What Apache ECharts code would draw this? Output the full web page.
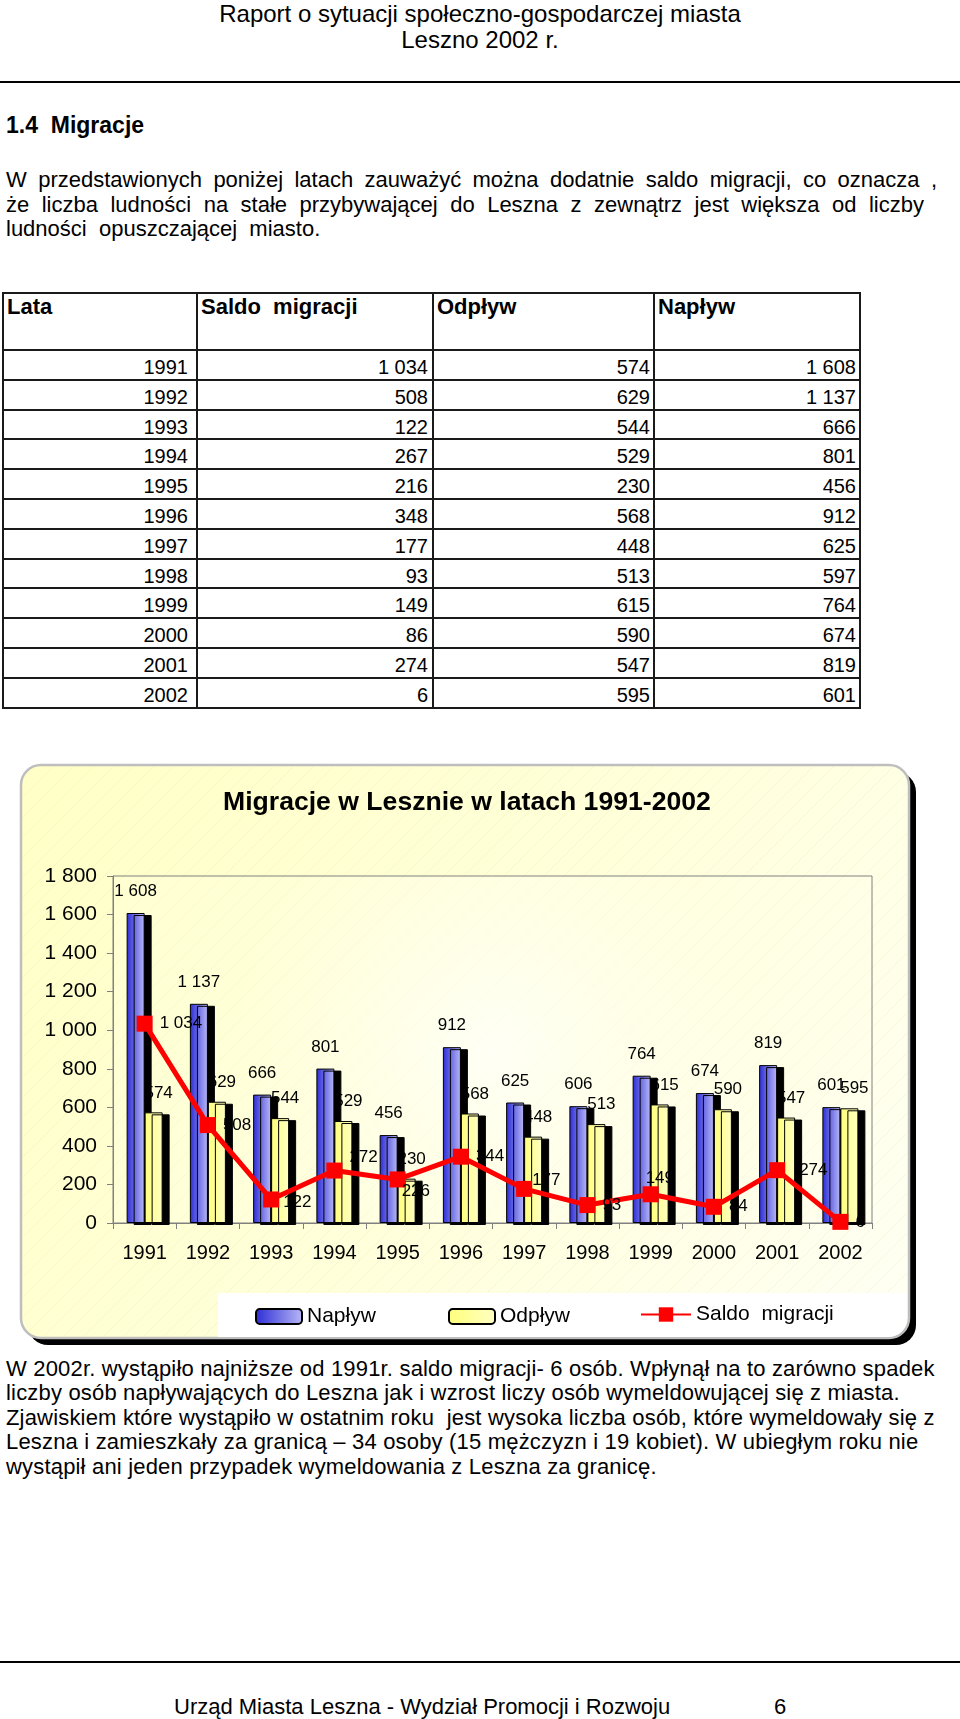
<!DOCTYPE html>
<html><head><meta charset="utf-8">
<script src="https://cdn.jsdelivr.net/npm/echarts@6/dist/echarts.min.js"></script>
<style>
html,body{margin:0;padding:0;background:#fff;}
body{width:960px;height:1719px;position:relative;overflow:hidden;font-family:"Liberation Sans",Arial,Helvetica,sans-serif;color:#000;}
.t{position:absolute;line-height:1;white-space:nowrap;}
.j{text-align:justify;text-align-last:justify;}
.b{letter-spacing:0.18px;}
.rule{position:absolute;left:0;width:960px;height:2px;background:#000;}
.ln{position:absolute;background:#1a1a1a;}
#chart{position:absolute;left:0;top:0;width:960px;height:1719px;z-index:2;}
</style></head>
<body>
<div class="t" style="left:0;width:960px;text-align:center;top:2px;font-size:24px;">Raport o sytuacji społeczno-gospodarczej miasta</div>
<div class="t" style="left:0;width:960px;text-align:center;top:28px;font-size:24px;">Leszno 2002 r.</div>
<div class="rule" style="top:81px;"></div>
<div class="t" style="left:6px;top:114px;font-size:23px;font-weight:bold;">1.4&nbsp; Migracje</div>
<div class="t j" style="left:6px;width:931px;top:169px;font-size:22px;">W przedstawionych poniżej latach zauważyć można dodatnie saldo migracji, co oznacza ,</div>
<div class="t j" style="left:6px;width:918px;top:194px;font-size:22px;">że liczba ludności na stałe przybywającej do Leszna z zewnątrz jest większa od liczby</div>
<div class="t" style="left:6px;top:218px;font-size:22px;white-space:pre;">ludności  opuszczającej  miasto.</div>
<div id="tbl"></div>
<div class="t b" style="left:6px;top:1358px;font-size:22px;">W 2002r. wystąpiło najniższe od 1991r. saldo migracji- 6 osób. Wpłynął na to zarówno spadek</div>
<div class="t b" style="left:6px;top:1382px;font-size:22px;">liczby osób napływających do Leszna jak i wzrost liczy osób wymeldowującej się z miasta.</div>
<div class="t b" style="left:6px;top:1407px;font-size:22px;white-space:pre;">Zjawiskiem które wystąpiło w ostatnim roku  jest wysoka liczba osób, które wymeldowały się z</div>
<div class="t b" style="left:6px;top:1431px;font-size:22px;">Leszna i zamieszkały za granicą – 34 osoby (15 mężczyzn i 19 kobiet). W ubiegłym roku nie</div>
<div class="t b" style="left:6px;top:1456px;font-size:22px;">wystąpił ani jeden przypadek wymeldowania z Leszna za granicę.</div>
<div class="rule" style="top:1661px;"></div>
<div class="t" style="left:174px;top:1696px;font-size:22px;">Urząd Miasta Leszna - Wydział Promocji i Rozwoju</div>
<div class="t" style="left:774px;top:1696px;font-size:22px;">6</div>
<div id="chart"></div>
<script>
// ---- table data (as printed in the table) ----
const tableHeaders = ['Lata', 'Saldo  migracji', 'Odpływ', 'Napływ'];
const tableYears = [1991, 1992, 1993, 1994, 1995, 1996, 1997, 1998, 1999, 2000, 2001, 2002];
const tableSaldo = [1034, 508, 122, 267, 216, 348, 177, 93, 149, 86, 274, 6];
const tableOdplyw = [574, 629, 544, 529, 230, 568, 448, 513, 615, 590, 547, 595];
const tableNaplyw = [1608, 1137, 666, 801, 456, 912, 625, 597, 764, 674, 819, 601];

// ---- chart data (as labelled in the chart) ----
const years = ['1991', '1992', '1993', '1994', '1995', '1996', '1997', '1998', '1999', '2000', '2001', '2002'];
const naplyw = [1608, 1137, 666, 801, 456, 912, 625, 606, 764, 674, 819, 601];
const odplyw = [574, 629, 544, 529, 230, 568, 448, 513, 615, 590, 547, 595];
const saldo = [1034, 508, 122, 272, 226, 344, 177, 93, 149, 84, 274, 6];
const yMin = 0, yMax = 1800, yStep = 200;
const seriesNames = ['Napływ', 'Odpływ', 'Saldo  migracji'];

function fmt(v) { return String(v).replace(/\B(?=(\d{3})+(?!\d))/g, ' '); }

// ---- table drawing ----
(function () {
  const box = document.getElementById('tbl');
  const xs = [3, 197, 433, 654, 860];
  const ys = [293, 350];
  for (let i = 1; i <= tableYears.length; i++) ys.push(350 + i * 29.8);
  let h = '';
  ys.forEach(y => { h += `<div class="ln" style="left:${xs[0] - 1}px;width:${xs[4] - xs[0] + 2}px;top:${y - 1}px;height:2px"></div>`; });
  xs.forEach(x => { h += `<div class="ln" style="left:${x - 1}px;width:2px;top:${ys[0] - 1}px;height:${ys[ys.length - 1] - ys[0] + 2}px"></div>`; });
  tableHeaders.forEach((t, c) => {
    h += `<div class="t" style="left:${xs[c] + 4}px;top:296px;font-size:22px;font-weight:bold;white-space:pre">${t}</div>`;
  });
  const cols = [tableYears.map(String), tableSaldo.map(fmt), tableOdplyw.map(fmt), tableNaplyw.map(fmt)];
  const pads = [9, 5, 4, 4];
  for (let r = 0; r < tableYears.length; r++) {
    for (let c = 0; c < 4; c++) {
      h += `<div class="t" style="left:${xs[c]}px;width:${xs[c + 1] - xs[c] - pads[c]}px;text-align:right;top:${ys[r + 1] + 7}px;font-size:20px">${cols[c][r]}</div>`;
    }
  }
  box.innerHTML = h;
})();

// ---- chart ----
const FONT = '"Liberation Sans", Arial, sans-serif';
const blueFill = { type: 'linear', x: 0, y: 0, x2: 1, y2: 0, colorStops: [{ offset: 0, color: '#2C2CD6' }, { offset: 1, color: '#B8B8F6' }] };
const yellowFill = { type: 'linear', x: 0, y: 0, x2: 1, y2: 0, colorStops: [{ offset: 0, color: '#FFFF7A' }, { offset: 1, color: '#FFFFC4' }] };
// manual label nudges for the Saldo line (as placed in the original chart)
const saldoLabelNudge = { 2: [-3, 3], 3: [0, -13], 4: [-11, 12], 6: [-7, -9], 8: [-20, -16], 10: [7, 0] };

// faint diagonal texture of the chart background
const tex = document.createElement('canvas');
tex.width = 20; tex.height = 20;
(function () {
  const c = tex.getContext('2d');
  c.strokeStyle = 'rgba(190,190,130,0.13)';
  c.lineWidth = 1;
  c.beginPath();
  c.moveTo(-2, 22); c.lineTo(22, -2);
  c.stroke();
})();

const frame = { x: 21, y: 765, width: 888, height: 573, r: 20 };
const chart = echarts.init(document.getElementById('chart'), null, { renderer: 'canvas' });
const noShadow = { shadowColor: 'rgba(0,0,0,0)', shadowBlur: 0, shadowOffsetX: 0, shadowOffsetY: 0 };
chart.setOption({
  animation: false,
  textStyle: { fontFamily: FONT },
  title: {
    text: 'Migracje w Lesznie w latach 1991-2002',
    left: 223, top: 789, padding: 0,
    textStyle: { fontSize: 26.6, fontWeight: 'bold', color: '#000', fontFamily: FONT }
  },
  graphic: [
    {
      type: 'rect', z: -12, silent: true,
      shape: { x: frame.x + 7, y: frame.y + 7, width: frame.width, height: frame.height, r: frame.r },
      style: { fill: '#000' }
    },
    {
      type: 'rect', z: -11, silent: true,
      shape: frame,
      style: {
        fill: { type: 'linear', x: 0, y: 0, x2: 1, y2: 1, colorStops: [{ offset: 0, color: '#FFFFC6' }, { offset: 0.55, color: '#FFFFDC' }, { offset: 1, color: '#FFFFF4' }] },
        stroke: '#BEBEBE', lineWidth: 2.5
      }
    },
    {
      type: 'rect', z: -10, silent: true,
      shape: { x: frame.x + 2, y: frame.y + 2, width: frame.width - 4, height: frame.height - 4, r: frame.r - 2 },
      style: { fill: { image: tex, repeat: 'repeat' } }
    },
    {
      type: 'rect', z: -9, silent: true,
      shape: { x: 218, y: 1293, width: 689, height: 44, r: [0, 0, 19, 0] },
      style: { fill: '#FFFFFF' }
    }
  ],
  legend: seriesNames.map((n, i) => ({
    data: [{ name: n, itemStyle: noShadow }],
    left: [255, 448, 640][i],
    top: i === 2 ? 1304 : 1306,
    padding: 0,
    itemWidth: i === 2 ? 50 : 46,
    itemHeight: i === 2 ? 18 : 15,
    selectedMode: false,
    textStyle: { fontSize: 21, color: '#000', fontFamily: FONT }
  })),
  grid: {
    left: 113, top: 876, width: 759, height: 347,
    show: true, borderColor: '#808080', borderWidth: 1,
    backgroundColor: { type: 'radial', x: 0.5, y: 0.5, r: 0.75, colorStops: [{ offset: 0, color: 'rgba(255,255,250,0.85)' }, { offset: 1, color: 'rgba(255,255,235,0.2)' }] },
    containLabel: false, outerBoundsMode: 'none'
  },
  xAxis: {
    type: 'category', data: years,
    axisLine: { show: true, lineStyle: { color: '#808080', width: 1 } },
    axisTick: { show: true, interval: 0, length: 6, lineStyle: { color: '#808080' } },
    axisLabel: { interval: 0, margin: 20, fontSize: 20, color: '#000', fontFamily: FONT },
    splitLine: { show: false }
  },
  yAxis: {
    type: 'value', min: yMin, max: yMax, interval: yStep,
    axisLine: { show: true, lineStyle: { color: '#808080', width: 1 } },
    axisTick: { show: true, length: 6, lineStyle: { color: '#808080' } },
    axisLabel: { margin: 16, fontSize: 21, color: '#000', fontFamily: FONT, formatter: v => fmt(v) },
    splitLine: { show: false }
  },
  series: [
    {
      name: seriesNames[0], type: 'bar', data: naplyw, barWidth: 18, barGap: '0%',
      itemStyle: { color: blueFill, borderColor: '#000', borderWidth: 1, shadowColor: '#000', shadowBlur: 0, shadowOffsetX: 7, shadowOffsetY: 2 },
      label: { show: true, position: 'top', distance: 13, fontSize: 17, color: '#000', fontFamily: FONT, formatter: p => fmt(p.value) },
      emphasis: { disabled: true }, z: 2
    },
    {
      name: seriesNames[1], type: 'bar', data: odplyw, barWidth: 18, barGap: '0%',
      itemStyle: { color: yellowFill, borderColor: '#000', borderWidth: 1, shadowColor: '#000', shadowBlur: 0, shadowOffsetX: 7, shadowOffsetY: 2 },
      label: { show: true, position: 'top', distance: 11, offset: [5, 0], fontSize: 17, color: '#000', fontFamily: FONT, formatter: p => fmt(p.value) },
      emphasis: { disabled: true }, z: 2
    },
    {
      name: seriesNames[2], type: 'line',
      data: saldo.map((v, i) => saldoLabelNudge[i] ? { value: v, label: { offset: saldoLabelNudge[i] } } : v),
      symbol: 'rect', symbolSize: 16,
      itemStyle: { color: '#FF0000' },
      lineStyle: { color: '#FF0000', width: 5 },
      label: { show: true, position: 'right', distance: 7, fontSize: 17, color: '#000', fontFamily: FONT, formatter: p => fmt(p.value) },
      emphasis: { disabled: true }, z: 5
    }
  ]
});
</script>
</body></html>
